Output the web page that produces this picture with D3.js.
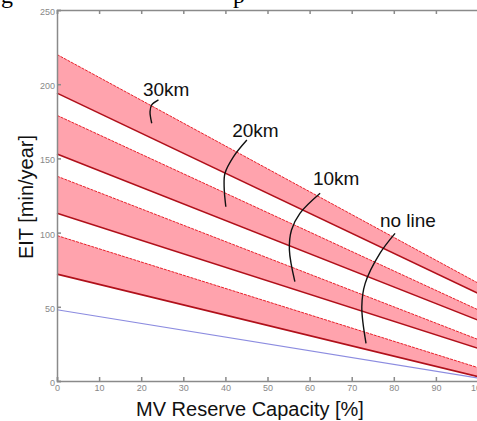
<!DOCTYPE html>
<html>
<head>
<meta charset="utf-8">
<script src="https://cdn.jsdelivr.net/npm/d3@7"></script>
<style>
  body { margin: 0; background: white; }
  svg { display: block; }
</style>
</head>
<body>
<svg id="chart"></svg>
<script>

// x positions of the band end points (MV reserve capacity, %)
var capacity = [0, 100];

var bandNames = ["30km", "20km", "10km", "no line"];

// EIT values at 0% and 100% capacity
var upperStart = [220, 179, 138, 98];
var upperEnd = [66, 48, 28, 9];
var lowerStart = [194, 153, 113, 72];
var lowerEnd = [59, 41, 22, 3];

// the blue reference line
var baseLine = [48, 2];

var xTicks = [0, 10, 20, 30, 40, 50, 60, 70, 80, 90, 100];
var yTicks = [0, 50, 100, 150, 200, 250];

// label anchors (capacity, EIT) and leader curves
var labelPos = [[20.4, 192], [41.6, 164.3], [60.8, 132], [76.7, 103.8]];
var leaders = [
    [[24.1, 189.4], [22.5, 186], [22.1, 181.5], [22.5, 173.7]],
    [[45.1, 162.4], [41.9, 151.1], [39.9, 140], [39.7, 130.9], [40.1, 117.4]],
    [[62.5, 126.5], [57.7, 113], [55.7, 101.8], [55.2, 88.3], [56.5, 67]],
    [[80.3, 99.5], [76.7, 86], [73.2, 65.8], [72.4, 50], [73.4, 25.4]]
];

var dimensions = {
    width: 477,
    height: 421,
    margin: { top: 10, bottom: 40, left: 57, right: -1 }
};

var svg = d3.select("#chart")
    .attr("width", dimensions.width)
    .attr("height", dimensions.height);

var xScale = d3.scaleLinear()
    .domain([0, 100])
    .range([dimensions.margin.left, dimensions.width - dimensions.margin.right]);

var yScale = d3.scaleLinear()
    .domain([0, 250])
    .range([dimensions.height - dimensions.margin.bottom, dimensions.margin.top]);

// caption fragments cut off at the top of the picture
svg.append("text").attr("x", 1).attr("y", 3)
    .style("font", "24px 'Liberation Serif', serif").text("g");
svg.append("text").attr("x", 233).attr("y", 3)
    .style("font", "24px 'Liberation Serif', serif").text("p");

// bands
for (var i = 0; i < bandNames.length; i++) {
    var upper = [upperStart[i], upperEnd[i]];
    var lower = [lowerStart[i], lowerEnd[i]];

    var area = d3.area()
        .x(function (d, k) { return xScale(capacity[k]); })
        .y0(function (d, k) { return yScale(lower[k]); })
        .y1(function (d) { return yScale(d); });

    svg.append("path")
        .datum(upper)
        .attr("d", area)
        .attr("fill", "#ffa3ad");

    var line = d3.line()
        .x(function (d, k) { return xScale(capacity[k]); })
        .y(function (d) { return yScale(d); });

    svg.append("path")
        .datum(upper)
        .attr("d", line)
        .attr("fill", "none")
        .attr("stroke", "#e8202a")
        .attr("stroke-width", 1)
        .attr("stroke-dasharray", "3,1");

    svg.append("path")
        .datum(lower)
        .attr("d", line)
        .attr("fill", "none")
        .attr("stroke", "#b0101a")
        .attr("stroke-width", 1.6);
}

svg.append("path")
    .datum(baseLine)
    .attr("d", d3.line()
        .x(function (d, k) { return xScale(capacity[k]); })
        .y(function (d) { return yScale(d); }))
    .attr("fill", "none")
    .attr("stroke", "#8c8ce0")
    .attr("stroke-width", 1.2);

// axes box
var axisColor = "#8a8a8a";

var xAxisgen = d3.axisBottom(xScale).tickValues(xTicks).tickSize(-4).tickPadding(4);
var yAxisgen = d3.axisLeft(yScale).tickValues(yTicks).tickSize(-4).tickPadding(2);
var topAxisgen = d3.axisTop(xScale).tickValues(xTicks).tickSize(-4).tickFormat("");

var xAxis = svg.append("g")
    .attr("transform", "translate(0," + yScale(0) + ")")
    .call(xAxisgen);

var yAxis = svg.append("g")
    .attr("transform", "translate(" + xScale(0) + ",0)")
    .call(yAxisgen);

var topAxis = svg.append("g")
    .attr("transform", "translate(0," + yScale(250) + ")")
    .call(topAxisgen);

[xAxis, yAxis, topAxis].forEach(function (g) {
    g.selectAll("path, line").attr("stroke", axisColor).attr("stroke-width", 1.5);
    g.selectAll("text")
        .attr("fill", "#888")
        .style("font-family", "'Liberation Sans', Arial, sans-serif")
        .style("font-size", "9px");
});
yAxis.selectAll("text").attr("dy", "0.5em");

// labels and leaders
var leaderLine = d3.line()
    .x(function (d) { return xScale(d[0]); })
    .y(function (d) { return yScale(d[1]); })
    .curve(d3.curveCatmullRom);

for (var j = 0; j < bandNames.length; j++) {
    svg.append("path")
        .attr("d", leaderLine(leaders[j]))
        .attr("fill", "none")
        .attr("stroke", "#111")
        .attr("stroke-width", 1.4);

    svg.append("text")
        .attr("x", xScale(labelPos[j][0]))
        .attr("y", yScale(labelPos[j][1]))
        .style("font-family", "'Liberation Sans', Arial, sans-serif")
        .style("font-size", "19px")
        .attr("fill", "#111")
        .text(bandNames[j]);
}

// axis titles
svg.append("text")
    .attr("x", 250)
    .attr("y", 416)
    .attr("text-anchor", "middle")
    .style("font-family", "'Liberation Sans', Arial, sans-serif")
    .style("font-size", "20px")
    .attr("fill", "#111")
    .text("MV Reserve Capacity [%]");

svg.append("text")
    .attr("transform", "translate(33,197) rotate(-90)")
    .attr("text-anchor", "middle")
    .style("font-family", "'Liberation Sans', Arial, sans-serif")
    .style("font-size", "20px")
    .attr("fill", "#111")
    .text("EIT [min/year]");

</script>
</body>
</html>
